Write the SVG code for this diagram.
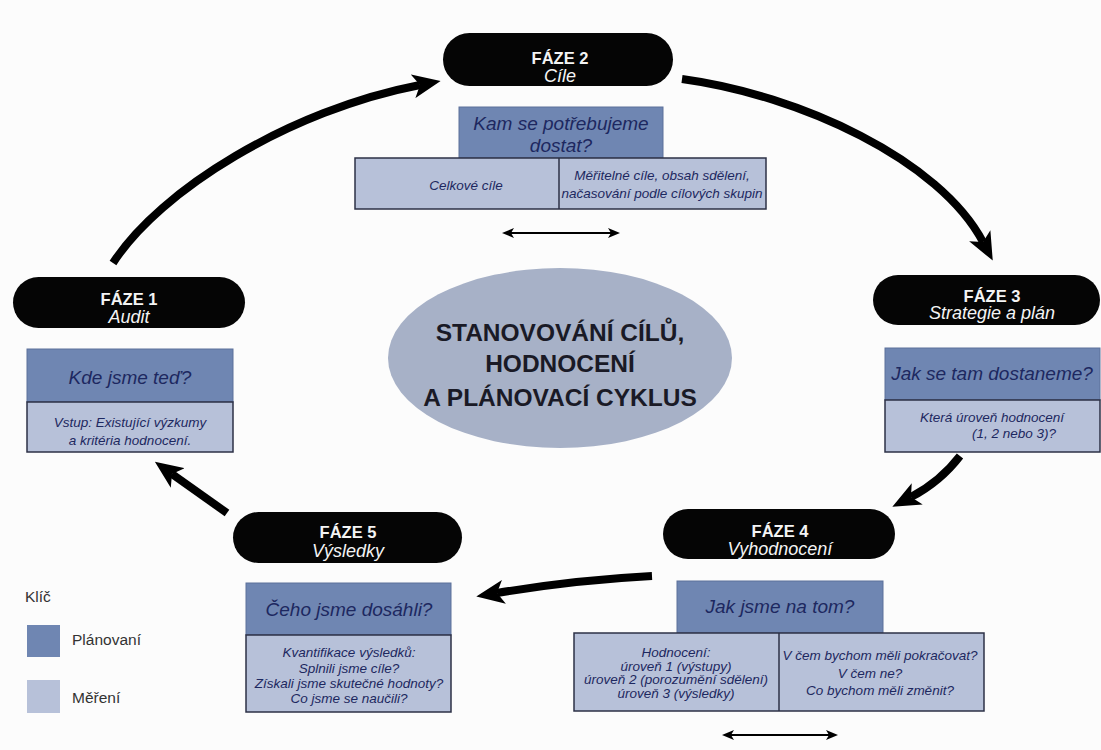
<svg xmlns="http://www.w3.org/2000/svg" width="1101" height="750" viewBox="0 0 1101 750">
<defs>
<style>
.pill{fill:#050505}
.pt{font-family:"Liberation Sans",Arial,sans-serif;font-weight:bold;font-size:16.5px;fill:#f4f4f4;text-anchor:middle}
.ps{font-family:"Liberation Sans",Arial,sans-serif;font-style:italic;font-size:18px;fill:#f4f4f4;text-anchor:middle}
.plan{fill:#6f86b2;stroke:#5d709a;stroke-width:1}
.meas{fill:#b7c1d9;stroke:#2c3146;stroke-width:1.5}
.div{stroke:#2c3146;stroke-width:1.5}
.q{font-family:"Liberation Sans",Arial,sans-serif;font-style:italic;font-size:19px;fill:#1d2860;text-anchor:middle}
.m{font-family:"Liberation Sans",Arial,sans-serif;font-style:italic;font-size:13.5px;fill:#1d2860;text-anchor:middle}
.conn{fill:none;stroke:#000;stroke-width:8}
.dbl{fill:none;stroke:#000;stroke-width:2}
.ct{font-family:"Liberation Sans",Arial,sans-serif;font-weight:bold;font-size:24.5px;fill:#1a1a26;text-anchor:middle}
.lg{font-family:"Liberation Sans",Arial,sans-serif;font-size:15.5px;fill:#333}
</style>
<marker id="ah" viewBox="0 0 28 24" markerWidth="28" markerHeight="24" refX="7" refY="12" orient="auto" markerUnits="userSpaceOnUse"><path d="M0,0 L28,12 L0,24 L7,12 z" fill="#000"/></marker>
<marker id="sh" viewBox="0 0 12 10" markerWidth="12" markerHeight="10" refX="3" refY="5" orient="auto-start-reverse" markerUnits="userSpaceOnUse"><path d="M0,0 L12,5 L0,10 L3,5 z" fill="#000"/></marker>
</defs>
<rect width="1101" height="750" fill="#fcfcfc"/>

<g id="connectors">
<path class="conn" d="M113,263 C160,190 290,110 420,85" marker-end="url(#ah)"/>
<path class="conn" d="M682,79 C800,95 940,160 983,242" marker-end="url(#ah)"/>
<path class="conn" d="M960,456 Q940,482 911,497" marker-end="url(#ah)"/>
<path class="conn" d="M652,576 Q575,580 497,593" marker-end="url(#ah)"/>
<path class="conn" d="M227,513 L172,474" marker-end="url(#ah)"/>
<path class="dbl" d="M511,233 L611,233" marker-start="url(#sh)" marker-end="url(#sh)"/>
<path class="dbl" d="M731,735 L829,735" marker-start="url(#sh)" marker-end="url(#sh)"/>
</g>

<g id="center">
<ellipse cx="560" cy="358" rx="172" ry="90" fill="#a7b1c7"/>
<text class="ct" x="560" y="341">STANOVOVÁNÍ CÍLŮ,</text>
<text class="ct" x="560" y="372">HODNOCENÍ</text>
<text class="ct" x="560" y="406">A PLÁNOVACÍ CYKLUS</text>
</g>

<g id="phase1">
<rect class="pill" x="13" y="277" width="232" height="51" rx="25.5"/>
<text class="pt" x="129" y="305">FÁZE 1</text>
<text class="ps" x="129" y="323">Audit</text>
<rect class="plan" x="27" y="349" width="206" height="53"/>
<text class="q" x="130" y="384">Kde jsme teď?</text>
<rect class="meas" x="27" y="402" width="206" height="50"/>
<text class="m" x="130" y="427">Vstup: Existující výzkumy</text>
<text class="m" x="130" y="445">a kritéria hodnocení.</text>
</g>

<g id="phase2">
<rect class="pill" x="443" y="33" width="230" height="53" rx="26.5"/>
<text class="pt" x="560" y="64">FÁZE 2</text>
<text class="ps" x="560" y="82">Cíle</text>
<rect class="plan" x="459" y="107" width="204" height="51"/>
<text class="q" x="561" y="130">Kam se potřebujeme</text>
<text class="q" x="561" y="152">dostat?</text>
<rect class="meas" x="355" y="158" width="411" height="51"/>
<line class="div" x1="559" y1="158" x2="559" y2="209"/>
<text class="m" x="466" y="190">Celkové cíle</text>
<text class="m" x="662" y="180">Měřitelné cíle, obsah sdělení,</text>
<text class="m" x="662" y="198">načasování podle cílových skupin</text>
</g>

<g id="phase3">
<rect class="pill" x="873" y="275" width="227" height="50" rx="25"/>
<text class="pt" x="992" y="302">FÁZE 3</text>
<text class="ps" x="992" y="319">Strategie a plán</text>
<rect class="plan" x="885" y="348" width="215" height="52"/>
<text class="q" x="992" y="380">Jak se tam dostaneme?</text>
<rect class="meas" x="885" y="400" width="215" height="52"/>
<text class="m" x="992" y="422">Která úroveň hodnocení</text>
<text class="m" x="1014" y="438">(1, 2 nebo 3)?</text>
</g>

<g id="phase4">
<rect class="pill" x="663" y="509" width="232" height="50" rx="25"/>
<text class="pt" x="780" y="537">FÁZE 4</text>
<text class="ps" x="780" y="555">Vyhodnocení</text>
<rect class="plan" x="677" y="581" width="206" height="52"/>
<text class="q" x="780" y="613">Jak jsme na tom?</text>
<rect class="meas" x="574" y="633" width="410" height="78"/>
<line class="div" x1="779" y1="633" x2="779" y2="711"/>
<text class="m" x="676" y="656.5">Hodnocení:</text>
<text class="m" x="676" y="670.5">úroveň 1 (výstupy)</text>
<text class="m" x="676" y="684">úroveň 2 (porozumění sdělení)</text>
<text class="m" x="676" y="698">úroveň 3 (výsledky)</text>
<text class="m" x="880" y="660">V čem bychom měli pokračovat?</text>
<text class="m" x="870" y="678">V čem ne?</text>
<text class="m" x="880" y="695">Co bychom měli změnit?</text>
</g>

<g id="phase5">
<rect class="pill" x="233" y="512" width="229" height="51" rx="25.5"/>
<text class="pt" x="348" y="538">FÁZE 5</text>
<text class="ps" x="348" y="557">Výsledky</text>
<rect class="plan" x="246" y="583" width="205" height="52"/>
<text class="q" x="349" y="616">Čeho jsme dosáhli?</text>
<rect class="meas" x="246" y="635" width="205" height="77"/>
<text class="m" x="349" y="657">Kvantifikace výsledků:</text>
<text class="m" x="349" y="673">Splnili jsme cíle?</text>
<text class="m" x="349" y="688">Získali jsme skutečné hodnoty?</text>
<text class="m" x="349" y="703">Co jsme se naučili?</text>
</g>

<g id="legend">
<text class="lg" x="25" y="602">Klíč</text>
<rect x="27" y="625" width="33" height="32" fill="#6f86b2"/>
<text class="lg" x="72" y="645">Plánovaní</text>
<rect x="27" y="680" width="33" height="33" fill="#b7c1d9"/>
<text class="lg" x="72" y="703">Měření</text>
</g>
</svg>
